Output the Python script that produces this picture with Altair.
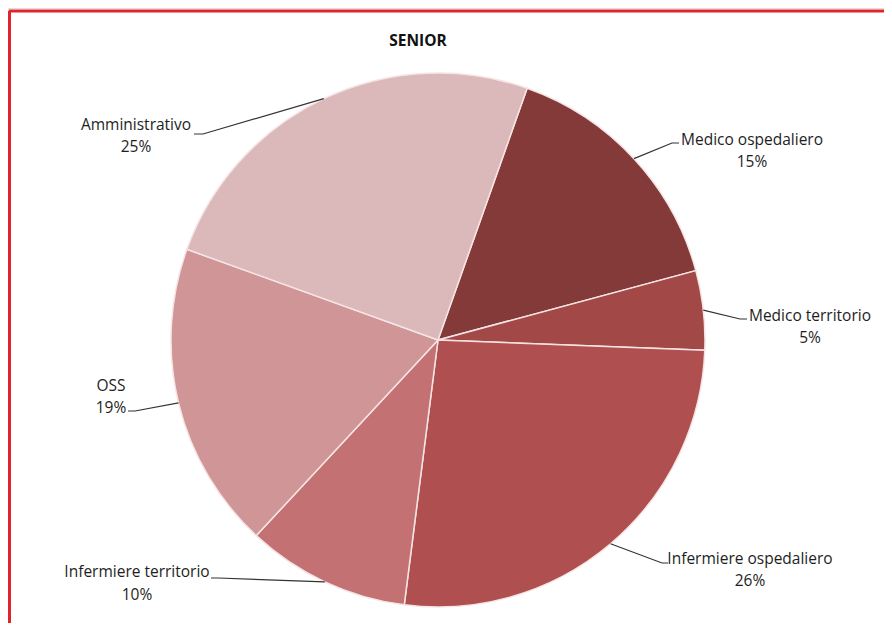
import math
import altair as alt
import pandas as pd

# ---- data ----
categories = ["Medico ospedaliero", "Medico territorio", "Infermiere ospedaliero",
              "Infermiere territorio", "OSS", "Amministrativo"]
values = [15.4, 4.8, 26.4, 9.9, 18.6, 24.9]
colors = ["#843a39", "#a24846", "#b04f4f", "#c37173", "#cf9597", "#dbb8b9"]
chart_title = "SENIOR"

# ---- layout (page pixels) ----
OX, OY = 8, 8           # plot origin on the page
W, H = 876, 615
CX, CY = 438, 340       # pie centre
R = 267                 # pie radius
START_DEG = 19.5        # first slice starts here (clockwise from 12 o'clock)
name_pos = [(752, 140), (810, 316), (750, 559), (137, 572), (111, 386), (136, 125)]
pct_pos = [(752, 162), (810, 338), (750, 581), (137, 595), (111, 408), (136, 147)]
leader_elbow = [(672, 143), (740, 319), (662, 563), (218, 578), (135, 411), (203, 134)]
leader_end = [(679, 143), (747, 319), (668, 563), (211, 578), (128, 411), (194, 134)]
FRAME_COLOR = "#e0242c"
FRAME_TOP_Y = 11
FRAME_LEFT_X = 9

total = sum(values)
start = math.radians(START_DEG)

pie_df = pd.DataFrame({"cat": categories, "val": values, "idx": list(range(len(values)))})

lab_rows, line_rows = [], []
cum = 0.0
for i, (c, v) in enumerate(zip(categories, values)):
    mid = start + (cum + v / 2) / total * 2 * math.pi
    cum += v
    sx = CX + R * math.sin(mid)
    sy = CY - R * math.cos(mid)
    lab_rows.append({"cat": c, "name": c, "pct": f"{round(v / total * 100)}%",
                     "nx": name_pos[i][0] - OX, "ny": name_pos[i][1] - OY,
                     "px": pct_pos[i][0] - OX, "py": pct_pos[i][1] - OY})
    pts = [(sx, sy), leader_elbow[i], leader_end[i]]
    for k, (x, y) in enumerate(pts):
        line_rows.append({"cat": c, "k": k, "x": x - OX, "y": y - OY})

lab_df = pd.DataFrame(lab_rows)
line_df = pd.DataFrame(line_rows)

xs = alt.Scale(domain=[0, W], range=[0, W])
ys = alt.Scale(domain=[0, H], range=[0, H])

frame_top = alt.Chart(pd.DataFrame({"a": [0]})).mark_rule(
    color=FRAME_COLOR, strokeWidth=3).encode(
    x=alt.value(FRAME_LEFT_X - OX), x2=alt.value(W),
    y=alt.value(FRAME_TOP_Y - OY))
frame_left = alt.Chart(pd.DataFrame({"a": [0]})).mark_rule(
    color=FRAME_COLOR, strokeWidth=3).encode(
    x=alt.value(FRAME_LEFT_X - OX + 0.5),
    y=alt.value(FRAME_TOP_Y - OY), y2=alt.value(H))

pie = alt.Chart(pie_df).mark_arc(radius=R, stroke="#f6e4e4", strokeWidth=1.5).encode(
    theta=alt.Theta("val:Q", stack=True,
                    scale=alt.Scale(range=[start, start + 2 * math.pi])),
    order=alt.Order("idx:Q"),
    color=alt.Color("cat:N", scale=alt.Scale(domain=categories, range=colors), legend=None),
    x=alt.value(CX - OX),
    y=alt.value(CY - OY),
)

leaders = alt.Chart(line_df).mark_line(color="#333333", strokeWidth=1.2).encode(
    x=alt.X("x:Q", scale=xs, axis=None),
    y=alt.Y("y:Q", scale=ys, axis=None),
    detail="cat:N",
    order="k:Q",
)

font = "Open Sans"
FS = 15.5
names = alt.Chart(lab_df).mark_text(font=font, fontSize=FS, color="#1e1e1e",
                                    align="center", baseline="middle").encode(
    x=alt.X("nx:Q", scale=xs, axis=None),
    y=alt.Y("ny:Q", scale=ys, axis=None),
    text="name:N",
)
pcts = alt.Chart(lab_df).mark_text(font=font, fontSize=FS, color="#1e1e1e",
                                   align="center", baseline="middle").encode(
    x=alt.X("px:Q", scale=xs, axis=None),
    y=alt.Y("py:Q", scale=ys, axis=None),
    text="pct:N",
)
title = alt.Chart(pd.DataFrame({"t": [chart_title]})).mark_text(
    font=font, fontSize=FS, fontWeight="bold", color="#111111",
    align="center", baseline="middle").encode(
    x=alt.value(418 - OX), y=alt.value(41 - OY), text="t:N")

chart = alt.layer(frame_top, frame_left, pie, leaders, names, pcts, title).properties(
    width=W, height=H,
    autosize=alt.AutoSizeParams(type="none"),
    padding=0,
).configure_view(strokeWidth=0, stroke=None).configure(background="white")

chart.save("out.html", embed_options={"renderer": "svg", "actions": False})
